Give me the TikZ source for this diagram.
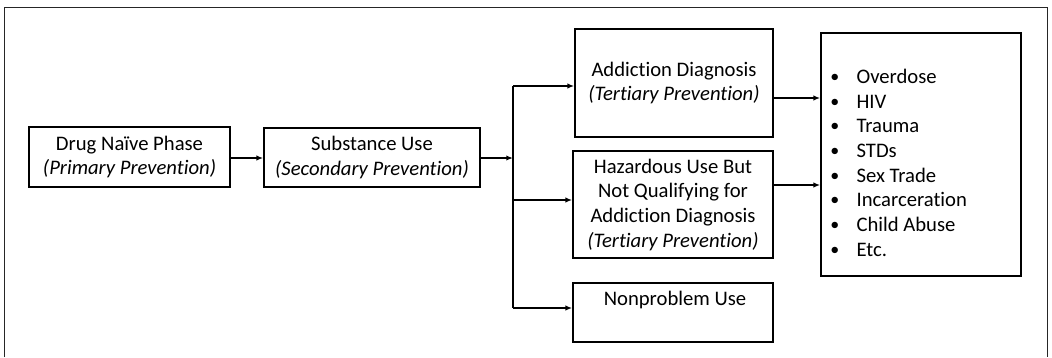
\documentclass[tikz,border=0pt]{standalone}
\usepackage{fontspec}
\setmainfont[Ligatures=NoCommon]{Carlito}
\usetikzlibrary{arrows.meta,positioning}
\newcommand{\bul}{{\fontsize{13.5}{13.5}\selectfont\raisebox{0.7pt}{\textbullet}}}
\begin{document}
\begin{tikzpicture}[x=0.75pt,y=-0.75pt,
  box/.style={draw=black,line width=1.3pt,inner sep=0pt,align=center,
    font=\fontsize{15.5}{18.5}\selectfont},
  txt/.style={inner sep=0pt,align=center,font=\fontsize{15.5}{18.5}\selectfont},
  arr/.style={line width=1pt,-{Latex[length=5pt,width=4pt]}},
  ln/.style={line width=1pt}]
\useasboundingbox (0,0) rectangle (1052,357);
\draw[line width=0.7pt,black!85] (4,357) -- (4,7) -- (1047,7) -- (1047,357);
% boxes
\node[box,minimum width=151pt,minimum height=45pt] (b1) at (129.5,157)
  {Drug Naïve Phase\\\textit{(Primary Prevention)}};
\node[box,minimum width=162pt,minimum height=44pt] (b2) at (372,157.5)
  {Substance Use\\\textit{(Secondary Prevention)}};
\node[box,minimum width=148.5pt,minimum height=81pt] (ad) at (674,83)
  {Addiction Diagnosis\\\textit{(Tertiary Prevention)}};
\node[box,minimum width=150pt,minimum height=80pt] (hz) at (673,204.5)
  {Hazardous Use But\\Not Qualifying for\\Addiction Diagnosis\\\textit{(Tertiary Prevention)}};
\node[box,minimum width=150pt,minimum height=44pt] (np) at (673,312.5) {};
\node[txt] (npt) at (675,300) {Nonproblem Use};
\node[box,minimum width=150pt,minimum height=182pt] (oc) at (921,154.5) {};
\node[txt,anchor=north west,align=left] (oct) at (830,66)
  {\begin{tabular}{@{}l@{\hspace{13pt}}l@{}}
   \bul & Overdose\\
   \bul & HIV\\
   \bul & Trauma\\
   \bul & STDs\\
   \bul & Sex Trade\\
   \bul & Incarceration\\
   \bul & Child Abuse\\
   \bul & Etc.
   \end{tabular}};
% bus
\coordinate (bt) at (513,86);
\coordinate (bm) at (513,200);
\coordinate (bb) at (513,308);
\coordinate (bj) at (513,158);
% connectors
\draw[arr] (b1.east |- 0,158) -- (b2.west |- 0,158);
\draw[arr] (b2.east |- bj) -- (bj);
\draw[ln] (bt) -- (bb);
\draw[arr] (bt) -- (bt -| ad.west);
\draw[arr] (bm) -- (bm -| hz.west);
\draw[arr] (bb) -- (bb -| np.west);
\draw[arr] (ad.east |- 0,98) -- (oc.west |- 0,98);
\draw[arr] (hz.east |- 0,185) -- (oc.west |- 0,185);
\end{tikzpicture}
\end{document}
